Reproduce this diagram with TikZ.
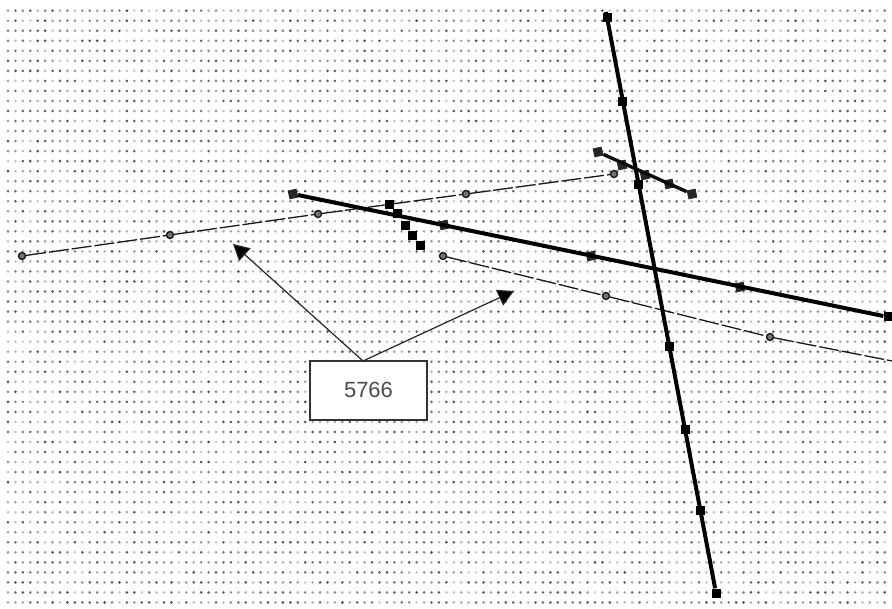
\documentclass[tikz,border=0pt]{standalone}
\usepackage{fontspec}
\setmainfont{Liberation Sans}
\usetikzlibrary{arrows.meta}
\tikzset{
  sq/.style={fill=black,draw=none,minimum size=9pt,inner sep=0pt,rectangle},
  circ/.style={circle,draw=black!90,fill=black!55,line width=1.4pt,minimum size=7pt,inner sep=0pt},
  xm/.style={fill=black!85,draw=none,minimum size=9pt,inner sep=0pt,rectangle,rotate=12},
  heavyline/.style={line width=4pt,black},
  midline/.style={line width=3.4pt,black!95},
  dashline/.style={line width=1.3pt,black!90,dash pattern=on 20pt off 3pt},
  callout/.style={line width=1.2pt,black!85,-{Triangle[length=16pt,width=17pt,fill=black]}},
  labelbox/.style={draw=black!80,line width=1.2pt,fill=white,minimum width=117pt,minimum height=59pt,inner sep=0pt,font=\fontsize{22}{24}\selectfont,text=black!70}
}
\begin{document}
\begin{tikzpicture}[x=1pt,y=-1pt]
\useasboundingbox (0,0) rectangle (892,609);
\fill[white] (0,0) rectangle (892,609);
\pgfmathsetseed{5766}
\foreach \j in {0,...,59}{
  \foreach \i in {0,...,118}{
    \pgfmathrandominteger{\g}{20}{70}
    \fill[black!\g] ({8+7.43*\i},{10.7+10.03*\j}) circle (1.45);
  }
}
% dashed polyline, top
\node[circ] (t1) at (22,256) {};
\node[circ] (t2) at (170,235) {};
\node[circ] (t3) at (318,214) {};
\node[circ] (t4) at (466,194) {};
\node[circ] (t5) at (614,174) {};
\draw[dashline] (t1) -- (t2) -- (t3) -- (t4) -- (t5);
% dashed polyline, bottom
\node[circ] (b1) at (443,256) {};
\node[circ] (b2) at (606,296) {};
\node[circ] (b3) at (770,337) {};
\coordinate (b4) at (892,361);
\draw[dashline] (b1) -- (b2) -- (b3) -- (b4);
% steep line
\node[sq] (s1) at (607,18) {};
\node[sq] (s2) at (622,102) {};
\node[sq] (s3) at (638,185) {};
\node[sq] (s4) at (669,347) {};
\node[sq] (s5) at (685,430) {};
\node[sq] (s6) at (700,510) {};
\node[sq] (s7) at (716,593) {};
\coordinate (s0) at (606,12);
\draw[heavyline] (s0) -- (s7);
% long thick line
\node[xm] (h1) at (293,194) {};
\node[xm] (h2) at (444,225) {};
\node[xm] (h3) at (591,256) {};
\node[xm] (h4) at (740,287) {};
\node[sq] (h5) at (888,317) {};
\draw[heavyline] (h1) -- (h5);
% short thick line
\node[xm] (k1) at (598,152) {};
\node[xm] (k2) at (622,165) {};
\node[xm] (k3) at (645,175) {};
\node[xm] (k4) at (669,184) {};
\node[xm] (k5) at (692,194) {};
\draw[midline] (k1) -- (k5);
% square staircase
\node[sq] (q1) at (389,205) {};
\node[sq] (q2) at (397,214) {};
\node[sq] (q3) at (405,226) {};
\node[sq] (q4) at (412,236) {};
\node[sq] (q5) at (420,246) {};
% label with arrows
\node[labelbox] (box) at (368.5,390.5) {\raisebox{1.5pt}{5766}};
\coordinate (apex) at (363,361);
\coordinate (a1) at (233,244);
\coordinate (a2) at (514,291);
\draw[callout] (apex) -- (a1);
\draw[callout] (apex) -- (a2);
\end{tikzpicture}
\end{document}
